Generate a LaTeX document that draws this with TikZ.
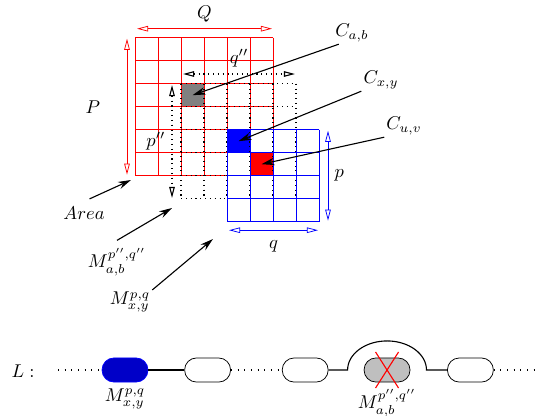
\documentclass[tikz,border=0pt]{standalone}
\usepackage{amsmath}
\usepackage{xcolor}
\usetikzlibrary{arrows.meta, positioning}
\definecolor{chainblue}{RGB}{0,0,200}

\begin{document}
\begin{tikzpicture}[
		x=0.54pt, y=-0.54pt,
		dim/.style={{Triangle[open,length=6pt,width=3pt]}-{Triangle[open,length=6pt,width=3pt]}},
		pointer/.style={semithick, -{Stealth[length=7pt,width=4pt]}},
		cellbox/.style={rectangle, inner sep=0pt, minimum size=12.42pt},
		gridDots/.style={line width=0.6pt, dotted},
		lbl/.style={inner sep=1pt},
		block/.style={rectangle, rounded corners=6.4pt, draw=black, minimum width=24.8pt, minimum height=13pt, inner sep=0pt},
		link/.style={semithick},
		gap/.style={line width=0.6pt, dash pattern=on 0.6pt off 3pt}
		]
		
		\useasboundingbox (0,0) rectangle (537,415);
		
		% Grid corners
		\coordinate (redNW) at (135,37.7);
		\coordinate (redNE) at (273,37.7);
		\coordinate (redSW) at (135,175.7);
		\coordinate (dotNW) at (181,83.7);
		\coordinate (dotNE) at (296,83.7);
		\coordinate (dotSW) at (181,198.7);
		\coordinate (blueNE) at (319,129.7);
		\coordinate (blueSW) at (227,221.7);
		\coordinate (blueSE) at (319,221.7);
		
		% Marked cells
		\node (cellAB) [cellbox, fill=gray] at (192.5,95.2) {};
		\node (cellXY) [cellbox, fill=blue] at (238.5,141.2) {};
		\node (cellUV) [cellbox, fill=red] at (261.5,164.2) {};
		
		% Grids
		\foreach \k in {0,...,6} {
			\draw[red] (135+23*\k,37.7) -- (135+23*\k,175.7);
			\draw[red] (135,37.7+23*\k) -- (273,37.7+23*\k);
		}
		\foreach \k in {0,...,5} {
			\draw[gridDots] (181+23*\k,83.7) -- (181+23*\k,198.7);
			\draw[gridDots] (181,83.7+23*\k) -- (296,83.7+23*\k);
		}
		\foreach \k in {0,...,4} {
			\draw[blue] (227+23*\k,129.7) -- (227+23*\k,221.7);
			\draw[blue] (227,129.7+23*\k) -- (319,129.7+23*\k);
		}
		
		% Dimension lines
		\draw[dim, red] ([shift={(2,-9)}]redNW) -- node[above, black] {$Q$} ([shift={(-1,-9)}]redNE);
		\draw[dim, red] ([shift={(-8,1)}]redNW) -- node[left=11pt, black] {$P$} ([shift={(-8,-1)}]redSW);
		\draw[dim, gridDots] ([shift={(2,-9.7)}]dotNW) -- node[above, solid] {$q''$} ([shift={(-1,-9.7)}]dotNE);
		\draw[dim, gridDots] ([shift={(-9,1.3)}]dotNW) -- node[left, solid] {$p''$} ([shift={(-9,-0.7)}]dotSW);
		\draw[dim, blue] ([shift={(9,1)}]blueNE) -- node[right, black] {$p$} ([shift={(9,-1)}]blueSE);
		\draw[dim, blue] ([shift={(2,8.5)}]blueSW) -- node[below=2pt, black] {$q$} ([shift={(-1,8.5)}]blueSE);
		
		% Labels
		\node (labelCab) [lbl] at (352,33) {$C_{a,b}$};
		\node (labelCxy) [lbl] at (381,80) {$C_{x,y}$};
		\node (labelCuv) [lbl] at (404,126) {$C_{u,v}$};
		\node (labelArea) [lbl] at (84,213) {$Area$};
		\node (labelMab) [lbl] at (117,262) {$M^{p'',q''}_{a,b}$};
		\node (labelMxy) [lbl] at (130,302) {$M^{p,q}_{x,y}$};
		\coordinate (areaTip) at (131,180);
		\coordinate (dotTip) at (172,208);
		\coordinate (blueTip) at (213,239);
		
		\draw[pointer] ([xshift=3pt]labelCab.south west) -- (cellAB.center);
		\draw[pointer] (labelCxy.south west) -- (cellXY.center);
		\draw[pointer] (labelCuv.south west) -- (cellUV.center);
		\draw[pointer] ([shift={(3pt,3pt)}]labelArea.north) -- (areaTip);
		\draw[pointer] ([yshift=3pt]labelMab.north) -- (dotTip);
		\draw[pointer] (labelMxy.north east) -- (blueTip);
		
		% List L
		\node (listL) at (23,371) {$L:$};
		\coordinate (chainStart) at (58,370);
		\coordinate (chainEnd) at (537,370);
		\node (blk1) [block, draw=blue, fill=chainblue] at (125,370) {};
		\node (blk2) [block, fill=white, right=19.4pt of blk1] {};
		\node (blk3) [block, fill=white, right=27.5pt of blk2] {};
		\node (blk4) [block, fill=gray!50, right=19pt of blk3] {};
		\node (blk5) [block, fill=white, right=19.8pt of blk4] {};
		\node (nameMxy) [below=0pt of blk1] {$M^{p,q}_{x,y}$};
		
		\draw[gap] (chainStart) -- (blk1.west);
		\draw[link] (blk1.east) -- (blk2.west);
		\draw[gap] (blk2.east) -- (blk3.west);
		\draw[link] (blk3.east) -- ([xshift=-21.3pt]blk4.center) arc[start angle=180, end angle=0, x radius=21.3pt, y radius=15.7pt] -- (blk5.west);
		\draw[gap] (blk5.east) -- (chainEnd);
		\draw[red, semithick] ([shift={(-11.5,-18)}]blk4.center) -- ([shift={(11.5,18)}]blk4.center);
		\draw[red, semithick] ([shift={(11.5,-18)}]blk4.center) -- ([shift={(-11.5,18)}]blk4.center);
		\node (nameMab) [below=0pt of blk4] {$M^{p'',q''}_{a,b}$};
		
	\end{tikzpicture}
\end{document}
